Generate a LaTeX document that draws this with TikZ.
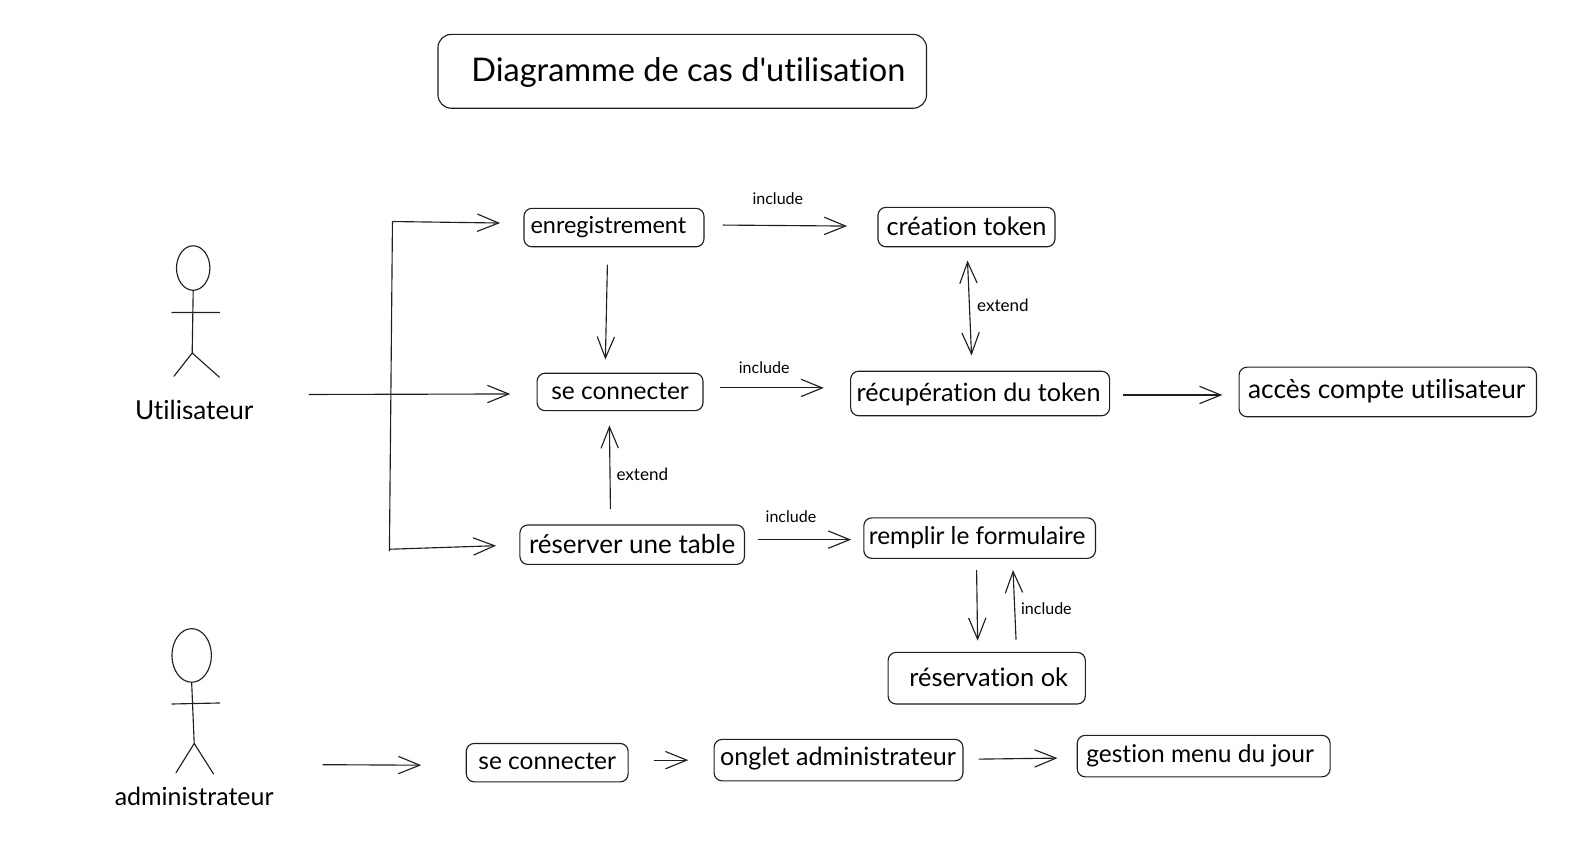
\documentclass[tikz,border=0pt]{standalone}
\usepackage{fontspec}
\usepackage{graphicx}
\setmainfont{Lato}[Ligatures={NoCommon,TeXOff}]
\usetikzlibrary{arrows.meta,calc,shapes.geometric}
\newlength{\pxu}
\setlength{\pxu}{0.7586pt}
\newcommand{\tw}[2]{\resizebox{#1\pxu}{!}{\strut #2}}
% width, horizontal offset (twice the shift), extra height (twice the downward shift), text
\newcommand{\twoff}[4]{\hspace*{#2\pxu}\sbox0{\resizebox{#1\pxu}{!}{\strut #4}}\raisebox{0pt}[\dimexpr\ht0+#3\pxu\relax][\dp0]{\usebox0}}
\tikzset{
  x=0.7586pt,y=-0.7586pt,
  ink/.style={draw=black!88,line width=0.85pt},
  boxed/.style={ink,rounded corners=6pt,inner sep=0pt,align=center},
  titlebox/.style={boxed,rounded corners=10pt},
  free/.style={inner sep=0pt,text=black},
  arr/.style={ink,-{Straight Barb[length=16pt,width=13pt,line width=0.85pt]}},
  arrboth/.style={ink,{Straight Barb[length=16pt,width=13pt,line width=0.85pt]}-{Straight Barb[length=16pt,width=13pt,line width=0.85pt]}},
  stick/.style={ink,line cap=round},
  headshape/.style={ink,ellipse,inner sep=0pt}
}
\begin{document}
\begin{tikzpicture}
\useasboundingbox (0,0) rectangle (1567,837.4);
% boxes
\node[titlebox,minimum width=483\pxu,minimum height=73\pxu] (title) at (674.5,70.5) {\twoff{429}{12}{4}{Diagramme de cas d'utilisation}};
\node[boxed,minimum width=178\pxu,minimum height=38\pxu] (enr) at (607,225) {\twoff{154}{-11}{0}{enregistrement}};
\node[boxed,minimum width=175\pxu,minimum height=39\pxu] (tok) at (955.5,224.5) {\twoff{158}{0}{4}{création token}};
\node[boxed,minimum width=164\pxu,minimum height=37\pxu] (con) at (613,387.5) {\twoff{136}{0}{4}{se connecter}};
\node[boxed,minimum width=256\pxu,minimum height=44\pxu] (rec) at (969,389) {\twoff{241}{-3}{4}{récupération du token}};
\node[boxed,minimum width=294\pxu,minimum height=49\pxu] (acc) at (1372,387.5) {\twoff{274}{-2}{0}{accès compte utilisateur}};
\node[boxed,minimum width=222\pxu,minimum height=39\pxu] (res) at (625,538.5) {\twoff{204}{0}{6}{réserver une table}};
\node[boxed,minimum width=229\pxu,minimum height=40\pxu] (rem) at (968.5,532) {\twoff{214}{-5}{2}{remplir le formulaire}};
\node[boxed,minimum width=195\pxu,minimum height=51\pxu] (ok) at (975.5,670.5) {\twoff{157}{4}{4}{réservation ok}};
\node[boxed,minimum width=160\pxu,minimum height=38\pxu] (con2) at (541,754) {\twoff{136}{0}{2}{se connecter}};
\node[boxed,minimum width=246\pxu,minimum height=41\pxu] (ong) at (829,751.5) {\twoff{233}{-1}{-2}{onglet administrateur}};
\node[boxed,minimum width=250\pxu,minimum height=41\pxu] (ges) at (1190,747.5) {\twoff{225}{-7}{2}{gestion menu du jour}};
% actors
\node[headshape,minimum width=33\pxu,minimum height=44\pxu] (headu) at (191,265) {};
\coordinate (hipu) at (190,349);
\coordinate (armul) at (170,309);
\coordinate (armur) at (217,309);
\coordinate (legul) at (172,372);
\coordinate (legur) at (217,373);
\draw[stick] (headu.south) -- (hipu) (armul) -- (armur) (legul) -- (hipu) -- (legur);
\node[free] (uti) at (192,409) {\tw{117}{Utilisateur}};
\node[headshape,minimum width=39\pxu,minimum height=53\pxu] (heada) at (189.5,648) {};
\coordinate (hipa) at (192,735);
\coordinate (armal) at (170,696);
\coordinate (armar) at (217,695);
\coordinate (legal) at (174,764);
\coordinate (legar) at (211,765);
\draw[stick] (heada.south) -- (hipa) (armal) -- (armar) (legal) -- (hipa) -- (legar);
\node[free] (adm) at (192,790) {\tw{157}{administrateur}};
% free ends
\coordinate (t1) at (388,219);
\coordinate (t2) at (385,545);
\coordinate (u1) at (305,390);
\coordinate (a1) at (319,756);
% connectors
\draw[ink] (t1) -- (t2);
\draw[arr] (t1) -- ($(enr.west)+(-23,-4.5)$);
\draw[arr] ($(t2)+(0,-2)$) -- ($(res.west)+(-23,1)$);
\draw[arr] (u1) -- ($(con.west)+(-26,2)$);
\draw[arr] (a1) -- ($(con2.west)+(-44,2.5)$);
\draw[arr] ($(enr.east)+(18,-2.5)$) -- ($(tok.west)+(-30,-1)$);
\draw[arr] ($(enr.south)+(-6.5,17)$) -- ($(con.north)+(-14.5,-13)$);
\draw[arrboth] ($(tok.south)+(1,13)$) -- ($(rec.north)+(-8.5,-15)$);
\draw[arr] ($(con.east)+(16,-4)$) -- ($(rec.west)+(-26,-5.5)$);
\draw[arr] ($(rec.east)+(13,1.5)$) -- ($(acc.west)+(-16,3)$);
\draw[arr] ($(res.north)+(-21.5,-15)$) -- ($(con.south)+(-10.5,14)$);
\draw[arr] ($(res.east)+(13,-5)$) -- ($(rem.west)+(-12,1.5)$);
\draw[arr] ($(rem.south)+(-3,11)$) -- ($(ok.north)+(-9,-11)$);
\draw[arr] ($(ok.north)+(29,-12)$) -- ($(rem.south)+(33,11)$);
\draw[arr] ($(con2.east)+(25,-2.5)$) -- ($(ong.west)+(-25,0)$);
\draw[arr] ($(ong.east)+(15,-1)$) -- ($(ges.west)+(-19,2)$);
% labels
\node[free] (l1) at (769,198) {\tw{50}{include}};
\node[free] (l2) at (991.5,304) {\tw{51}{extend}};
\node[free] (l3) at (755.5,365) {\tw{50}{include}};
\node[free] (l4) at (635,471) {\tw{51}{extend}};
\node[free] (l5) at (782,513) {\tw{50}{include}};
\node[free] (l6) at (1034.5,604) {\tw{50}{include}};
\end{tikzpicture}
\end{document}
